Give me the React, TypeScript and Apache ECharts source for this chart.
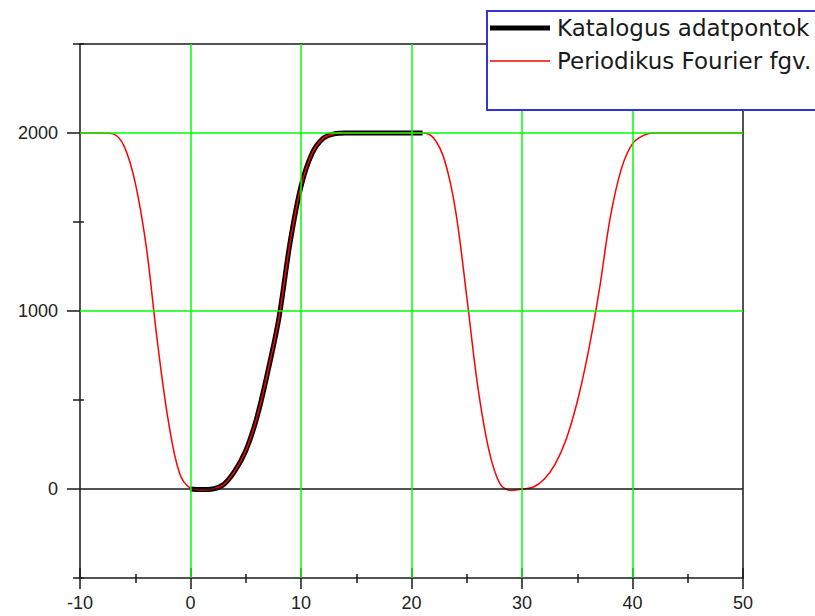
import React, { useEffect, useRef } from "react";
import * as echarts from "echarts";

// Catalog data points (black thick line)
const catalogX = [0, 1, 2, 3, 4, 5, 6, 7, 8, 9, 10, 11, 12, 13, 14, 15, 16, 17, 18, 19, 20, 21];
const catalogY = [0, -3, 0, 25, 100, 215, 400, 660, 960, 1380, 1700, 1885, 1970, 1995, 2000, 2000, 2000, 2000, 2000, 2000, 2000, 2000];

// Periodic Fourier function (red thin line)
const fourierX = [
  -10, -9, -8, -7, -6, -5, -4, -3, -2, -1,
  0, 1, 2, 3, 4, 5, 6, 7, 8, 9,
  10, 11, 12, 13, 14, 15, 16, 17, 18, 19,
  20, 21, 22, 23, 24, 25, 26, 27, 28, 29,
  30, 31, 32, 33, 34, 35, 36, 37, 38, 39,
  40, 41, 42, 43, 44, 45, 46, 47, 48, 49, 50,
];
const fourierY = [
  2000, 2000, 2000, 1995, 1925, 1720, 1360, 830, 380, 90,
  5, -5, 0, 25, 100, 215, 400, 660, 960, 1380,
  1700, 1885, 1970, 1995, 2000, 2000, 2000, 2000, 2000, 2000,
  2000, 2000, 1972, 1845, 1560, 1080, 575, 220, 30, -8,
  0, 10, 55, 140, 280, 490, 770, 1120, 1530, 1800,
  1940, 1987, 2000, 2000, 2000, 2000, 2000, 2000, 2000, 2000, 2000,
];

const seriesNames = ["Katalogus adatpontok", "Periodikus Fourier fgv."];
const xTicks = { min: -10, max: 50, step: 10 };
const yRange = { min: -500, max: 2500 };
const yLabelValues = [0, 1000, 2000];
const yMinorValues = [-500, 500, 1500, 2500];
const xGridValues = [0, 10, 20, 30, 40];
const yGridValues = [1000, 2000];

const AXIS_COLOR = "#1a1a1a";
const GRID_GREEN = "#00ff00";

export default function App() {
  const ref = useRef<HTMLDivElement>(null);

  useEffect(() => {
    if (!ref.current) return;
    const chart = echarts.init(ref.current, null, { renderer: "svg" });

    const catalog = catalogX.map((x, i) => [x, catalogY[i]]);
    const fourier = fourierX.map((x, i) => [x, fourierY[i]]);

    const labelStyle = {
      fontFamily: "Liberation Sans",
      fontSize: 18,
      color: "#222",
      formatter: (v: number) => String(v),
    };

    const baseX = {
      type: "value",
      min: xTicks.min,
      max: xTicks.max,
      interval: xTicks.step,
      splitLine: { show: false },
      z: 3,
    };

    const baseY = {
      type: "value",
      min: yRange.min,
      max: yRange.max,
      interval: 500,
      splitLine: { show: false },
      z: 3,
    };

    const option = {
      animation: false,
      backgroundColor: "#fff",
      grid: { left: 80, top: 44, right: 72, bottom: 38, containLabel: false },
      xAxis: [
        {
          ...baseX,
          position: "bottom",
          axisLine: { show: true, onZero: false, lineStyle: { color: AXIS_COLOR, width: 1.5 } },
          axisTick: { show: true, inside: false, length: 11, lineStyle: { color: AXIS_COLOR, width: 1.5 } },
          minorTick: { show: true, splitNumber: 2, length: 5, lineStyle: { color: AXIS_COLOR, width: 1.5 } },
          minorSplitLine: { show: false },
          axisLabel: { ...labelStyle, margin: 16 },
        },
        {
          ...baseX,
          position: "bottom",
          axisLine: { show: false, onZero: false },
          axisTick: { show: true, inside: true, length: 10, lineStyle: { color: AXIS_COLOR, width: 1.5 } },
          minorTick: { show: true, splitNumber: 2, length: 4, lineStyle: { color: AXIS_COLOR, width: 1.5 } },
          minorSplitLine: { show: false },
          axisLabel: { show: false },
        },
        {
          ...baseX,
          position: "top",
          axisLine: { show: true, onZero: false, lineStyle: { color: AXIS_COLOR, width: 1.5 } },
          axisTick: { show: false },
          axisLabel: { show: false },
        },
      ],
      yAxis: [
        {
          ...baseY,
          position: "left",
          axisLine: { show: true, onZero: false, lineStyle: { color: AXIS_COLOR, width: 1.5 } },
          axisTick: {
            show: true,
            inside: false,
            length: 13,
            customValues: yLabelValues,
            lineStyle: { color: AXIS_COLOR, width: 1.5 },
          },
          axisLabel: { ...labelStyle, margin: 22, customValues: yLabelValues },
        },
        {
          ...baseY,
          position: "left",
          axisLine: { show: false, onZero: false },
          axisTick: {
            show: true,
            inside: false,
            length: 7,
            customValues: yMinorValues,
            lineStyle: { color: AXIS_COLOR, width: 1.5 },
          },
          axisLabel: { show: false },
        },
        {
          ...baseY,
          position: "left",
          axisLine: { show: false, onZero: false },
          axisTick: {
            show: true,
            inside: true,
            length: 4,
            customValues: yMinorValues,
            lineStyle: { color: AXIS_COLOR, width: 1.5 },
          },
          axisLabel: { show: false },
        },
        {
          ...baseY,
          position: "right",
          axisLine: { show: true, onZero: false, lineStyle: { color: AXIS_COLOR, width: 1.5 } },
          axisTick: { show: false },
          axisLabel: { show: false },
        },
      ],
      series: [
        {
          type: "line",
          name: "grid",
          data: [],
          xAxisIndex: 0,
          yAxisIndex: 0,
          z: 1,
          silent: true,
          markLine: {
            silent: true,
            animation: false,
            symbol: ["none", "none"],
            label: { show: false },
            data: [
              ...yGridValues.map((v) => ({ yAxis: v, lineStyle: { color: GRID_GREEN, width: 1.5, type: "solid" } })),
              { yAxis: 0, lineStyle: { color: AXIS_COLOR, width: 1.5, type: "solid" } },
              ...xGridValues.map((v) => ({ xAxis: v, lineStyle: { color: GRID_GREEN, width: 1.5, type: "solid" } })),
            ],
          },
        },
        {
          type: "line",
          name: seriesNames[0],
          data: catalog,
          xAxisIndex: 0,
          yAxisIndex: 0,
          showSymbol: false,
          symbol: "none",
          smooth: 0.35,
          z: 2,
          lineStyle: { color: "#000", width: 5 },
        },
        {
          type: "line",
          name: seriesNames[1],
          data: fourier,
          xAxisIndex: 0,
          yAxisIndex: 0,
          showSymbol: false,
          symbol: "none",
          smooth: 0.35,
          z: 2,
          lineStyle: { color: "#ff0000", width: 1.5 },
        },
      ],
      graphic: [
        {
          type: "rect",
          x: 487,
          y: 11,
          z: 100,
          shape: { x: 0, y: 0, width: 340, height: 99 },
          style: { fill: "#fff", stroke: "#3333d6", lineWidth: 2 },
        },
        {
          type: "line",
          z: 101,
          shape: { x1: 490, y1: 28, x2: 550, y2: 28 },
          style: { stroke: "#000", lineWidth: 5 },
        },
        {
          type: "text",
          x: 557,
          y: 28,
          z: 101,
          style: {
            text: seriesNames[0],
            font: '23px "DejaVu Sans"',
            fill: "#1a1a1a",
            verticalAlign: "middle",
            textVerticalAlign: "middle",
          },
        },
        {
          type: "line",
          z: 101,
          shape: { x1: 490, y1: 61, x2: 550, y2: 61 },
          style: { stroke: "#ff0000", lineWidth: 1.5 },
        },
        {
          type: "text",
          x: 557,
          y: 61,
          z: 101,
          style: {
            text: seriesNames[1],
            font: '23px "DejaVu Sans"',
            fill: "#1a1a1a",
            verticalAlign: "middle",
            textVerticalAlign: "middle",
          },
        },
      ],
    };

    chart.setOption(option as any);
    return () => chart.dispose();
  }, []);

  return (
    <div
      ref={ref}
      style={{ position: "fixed", left: 0, top: 0, width: 815, height: 616, background: "#fff" }}
    />
  );
}
